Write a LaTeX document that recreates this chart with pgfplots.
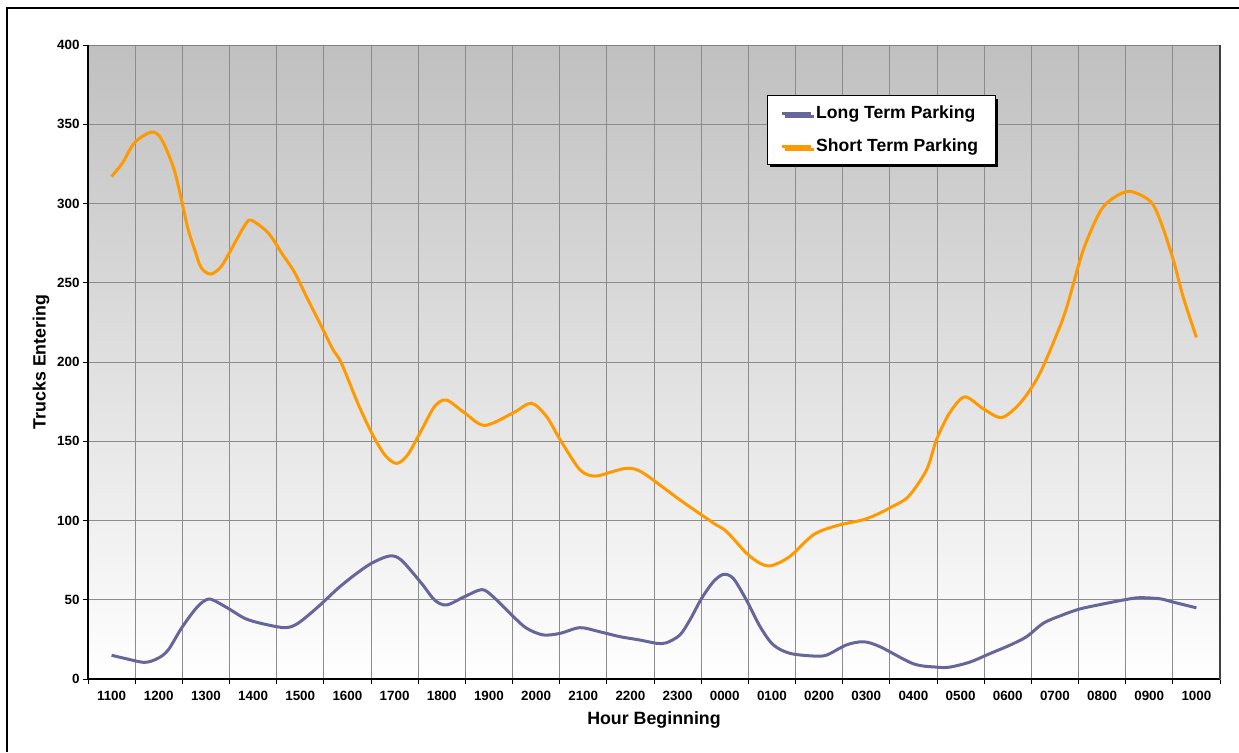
\documentclass[border=0pt]{standalone}
\usepackage{fontspec}
\setmainfont{Liberation Sans}
\usepackage{pgfplots}
\pgfplotsset{compat=1.18}
\usetikzlibrary{shadows}
\definecolor{ltp}{HTML}{666699}
\definecolor{stp}{HTML}{FF9900}
\definecolor{bgtop}{HTML}{C0C0C0}
\definecolor{gridc}{HTML}{8C8C8C}
\begin{document}
\begin{tikzpicture}
\useasboundingbox (0,0) rectangle (619.5pt,376pt);
\draw[line width=1pt] (3.5pt,0) -- (3.5pt,372pt) -- (619.5pt,372pt);
\begin{axis}[
  at={(44pt,36.5pt)}, anchor=south west,
  scale only axis, width=566pt, height=317pt,
  xmin=-0.5, xmax=23.5, ymin=0, ymax=400,
  xtick={-0.5,0.5,...,23.5},
  xticklabels={1100,1200,1300,1400,1500,1600,1700,1800,1900,2000,2100,2200,2300,0000,0100,0200,0300,0400,0500,0600,0700,0800,0900,1000,{}},
  xticklabel style={xshift=11.79pt},
  yticklabel style={xshift=1.8pt},
  ytick={0,50,...,400},
  xtick pos=bottom, ytick pos=left,
  tick align=outside,
  major tick length=2.5pt,
  tick style={black, line width=0.5pt},
  grid=major,
  major grid style={gridc, line width=0.5pt},
  axis background/.style={shade, top color=bgtop, bottom color=white},
  axis line style={draw=gray, line width=0.5pt},
  /pgf/number format/assume math mode=true,
  ticklabel style={font=\bfseries\fontsize{6.7}{8}\selectfont},
  label style={font=\bfseries\fontsize{8.9}{10}\selectfont},
  xlabel={Hour Beginning},
  ylabel={Trucks Entering},
  xlabel style={at={(axis description cs:0.5,0)}, anchor=center, yshift=-20.5pt},
  ylabel style={at={(axis description cs:-0.0415,0.5)}, anchor=center},
  legend style={at={(axis description cs:0.5996,0.921)}, anchor=north west,
    draw=black, line width=0.5pt, fill=white,
    drop shadow={shadow xshift=1.6pt, shadow yshift=-1.6pt, fill=black, opacity=1},
    font=\bfseries\fontsize{8.8}{10}\selectfont,
    inner xsep=6.5pt, inner ysep=3pt, row sep=4.5pt},
  legend cell align=left,
  legend image code/.code={\draw[#1, line width=1.5pt] (0pt,0pt) -- (14.5pt,0pt);},
  after end axis/.code={
    \draw[black, line width=0.75pt] (rel axis cs:0,1) -- (rel axis cs:0,0) -- (rel axis cs:1,0);
    \draw[black!75, line width=1pt] (rel axis cs:1,0) -- (rel axis cs:1,1);
  },
]
\addplot[ltp, line width=1.5pt, smooth] table {
0 15
0.28 13
0.7 10.5
0.98 13
1.2 18.3
1.48 32
1.76 43.5
1.94 48.8
2.11 50.3
2.47 44.6
2.82 38.3
3.17 35.1
3.67 32.4
3.95 35.1
4.38 45.6
4.8 57.2
5.15 65.6
5.51 73
5.89 77.6
6.14 75.1
6.57 60.4
6.85 49.8
7.1 46.7
7.48 51.9
7.85 56.4
8.09 51.9
8.52 39.3
8.8 32
9.15 27.8
9.51 28.8
9.93 32.4
10.35 29.8
10.78 26.7
11.2 24.6
11.56 22.5
11.77 22.9
12.05 27.8
12.26 37.2
12.51 50.9
12.76 61.4
12.97 66
13.18 63.5
13.46 49.8
13.75 33
14.03 21.5
14.38 16.2
14.88 14.5
15.16 15.1
15.58 21.5
15.94 23.5
16.29 20.4
17.0 9.6
17.49 7.5
17.77 7.5
18.2 10.7
18.62 16
19.05 21.4
19.4 26.7
19.76 35.3
20.18 40.6
20.53 44.2
21.03 47.4
21.52 50.2
21.8 51.3
22.23 50.6
22.51 48.5
23.0 44.9
};
\addlegendentry{Long Term Parking}
\addplot[stp, line width=1.5pt, smooth] table {
0 317
0.24 326
0.49 338.5
0.84 345
1.05 341
1.32 322
1.51 298.5
1.62 284
1.76 271
1.90 259.5
2.1 255.5
2.33 260.5
2.61 275
2.82 286
2.96 289.5
3.32 281.5
3.6 269
3.88 256.5
4.16 239.5
4.45 222.5
4.69 208
4.87 199.5
5.22 174
5.51 155.5
5.79 141.5
6.04 136
6.28 141.5
6.57 157
6.85 172
7.1 176
7.48 168
7.91 160
8.52 168
8.9 174
9.22 165.7
9.51 151
9.93 132
10.25 128
10.64 131
10.95 133
11.27 130
12.05 113
12.76 98.4
13.04 93
13.46 79.4
13.75 73
13.99 71.5
14.38 77.3
14.88 91
15.37 96.7
15.94 100.5
16.29 104.7
16.5 108
16.89 115
17.28 132
17.49 151
17.77 168
18.09 178
18.48 170.5
18.87 165
19.26 174
19.65 191
20.04 217.5
20.25 234.5
20.6 270.5
20.96 295
21.24 303.5
21.59 307.7
22.02 301.5
22.23 289.5
22.51 264.5
22.72 241
23.0 215.5
};
\addlegendentry{Short Term Parking}
\end{axis}
\end{tikzpicture}
\end{document}
